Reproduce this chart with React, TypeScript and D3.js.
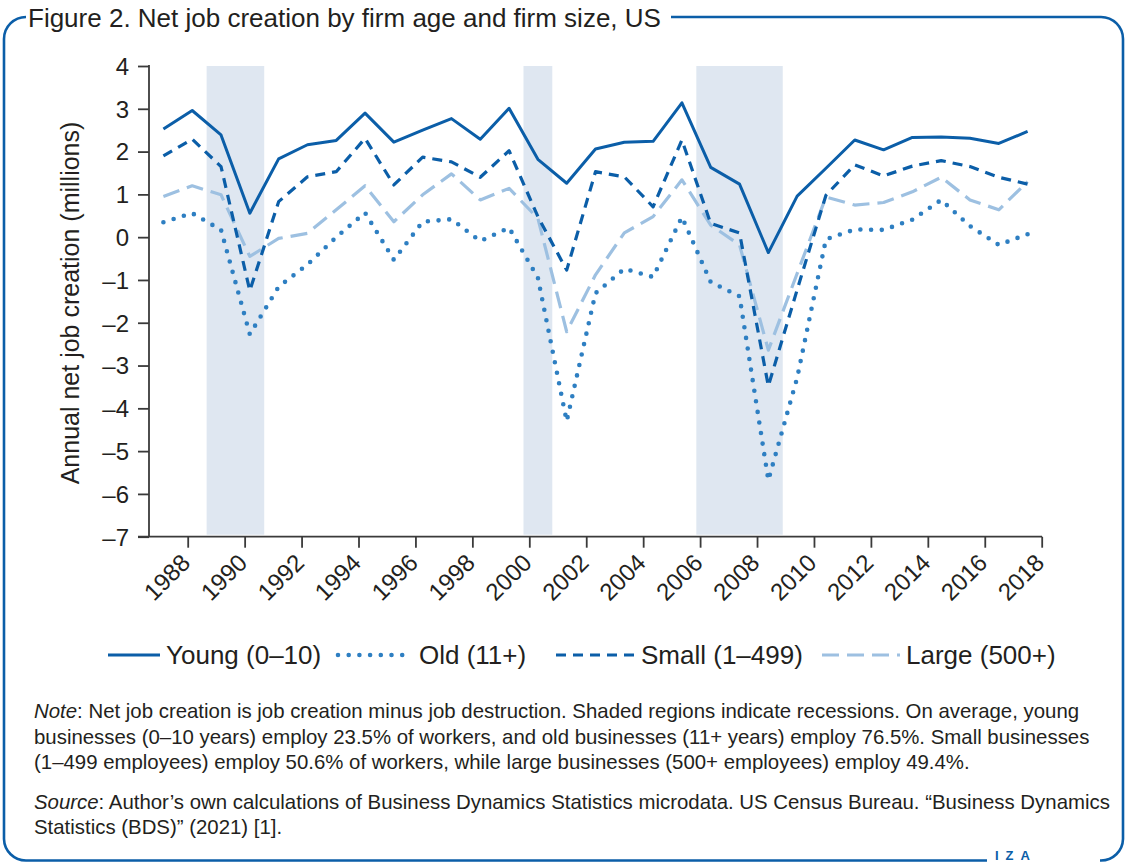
import React, { useRef, useEffect } from 'react';
import * as d3 from 'd3';

// categories (one point per year)
const years = [
	1988, 1989, 1990, 1991, 1992, 1993, 1994, 1995, 1996, 1997, 1998, 1999, 2000, 2001, 2002, 2003,
	2004, 2005, 2006, 2007, 2008, 2009, 2010, 2011, 2012, 2013, 2014, 2015, 2016, 2017, 2018,
];

// annual net job creation, millions
const young = [
	2.53, 2.96, 2.39, 0.56, 1.83, 2.16, 2.26, 2.9, 2.22, 2.5, 2.77, 2.29, 3.01, 1.82, 1.26, 2.06,
	2.22, 2.24, 3.14, 1.63, 1.24, -0.36, 0.96, 1.61, 2.27, 2.04, 2.33, 2.34, 2.31, 2.19, 2.47,
];
const old = [
	0.35, 0.56, 0.17, -2.27, -1.16, -0.64, 0.0, 0.57, -0.53, 0.36, 0.42, -0.09, 0.22, -0.95, -4.3, -1.31,
	-0.74, -0.93, 0.47, -1.05, -1.38, -5.68, -3.29, -0.05, 0.18, 0.17, 0.41, 0.87, 0.26, -0.18, 0.07,
];
const small = [
	1.9, 2.29, 1.65, -1.25, 0.83, 1.41, 1.53, 2.31, 1.22, 1.87, 1.76, 1.4, 2.02, 0.48, -0.77, 1.53,
	1.41, 0.71, 2.27, 0.32, 0.1, -3.48, -1.23, 0.98, 1.69, 1.43, 1.66, 1.79, 1.65, 1.4, 1.24,
];
const large = [
	0.95, 1.2, 0.99, -0.45, -0.03, 0.09, 0.64, 1.2, 0.36, 0.99, 1.48, 0.87, 1.14, 0.44, -2.21, -0.88,
	0.1, 0.48, 1.34, 0.28, -0.18, -2.64, -0.85, 0.94, 0.75, 0.81, 1.06, 1.4, 0.87, 0.64, 1.3,
];

const tickYears = [1988, 1990, 1992, 1994, 1996, 1998, 2000, 2002, 2004, 2006, 2008, 2010, 2012, 2014, 2016, 2018];
const yTicks = [4, 3, 2, 1, 0, -1, -2, -3, -4, -5, -6, -7];

// recession years (first, last)
const recessionStart = [1990, 2001, 2007];
const recessionEnd = [1991, 2001, 2009];

const seriesNames = ['Young (0–10)', 'Old (11+)', 'Small (1–499)', 'Large (500+)'];

const FONT = "'Liberation Sans', Arial, sans-serif";
const BLUE = '#0b5ea8';
const INK = '#231f20';

const styles = [
	{ color: BLUE, width: 3, dash: null, cap: 'butt' },
	{ color: '#2e7fc2', width: 4.6, dash: '0 10.7', cap: 'round' },
	{ color: BLUE, width: 3.2, dash: '10 7', cap: 'butt' },
	{ color: '#9dc0e1', width: 3.2, dash: '17 8', cap: 'butt' },
];

// legend layout: sample start/end, text x
const legendPos = [
	[108, 160, 166],
	[338, 410, 419],
	[556, 636, 641],
	[822, 900, 906],
];

function App() {
	const svgRef = useRef(null);

	useEffect(() => {
		const svg = d3.select(svgRef.current);
		svg.selectAll('*').remove();

		const left = 149;
		const right = 1042;
		const top = 66;
		const bottom = 536.7;

		const x = d3.scaleBand().domain(years.map(String)).range([left, right]);
		const cx = (yr) => x(String(yr)) + x.bandwidth() / 2;
		// the printed tick marks do not sit exactly on the category grid
		const tickScale = d3.scaleLinear().domain([1988, 2018]).range([187.7, 1041.7]);
		const y = d3.scaleLinear().domain([-7, 4]).range([bottom, top]);

		// frame
		const frame = svg.append('g').attr('fill', 'none').attr('stroke', BLUE).attr('stroke-width', 2.6);
		frame.append('path').attr('d', 'M26,17 A22,22 0 0 0 4,39 L4,839 A22,22 0 0 0 26,860.5 L987,860.5');
		frame.append('path').attr('d', 'M671,17 L1101,17 A22,22 0 0 1 1123,39 L1123,839 A22,22 0 0 1 1101,860.5 L1100,860.5');

		svg.append('text')
			.attr('x', 28)
			.attr('y', 27)
			.attr('font-family', FONT)
			.attr('font-size', 26)
			.attr('fill', INK)
			.text('Figure 2. Net job creation by firm age and firm size, US');

		svg.append('text')
			.attr('x', 995)
			.attr('y', 860)
			.attr('font-family', FONT)
			.attr('font-size', 13)
			.attr('font-weight', 'bold')
			.attr('letter-spacing', 7)
			.attr('fill', BLUE)
			.text('IZA');

		// recession shading
		svg.append('g')
			.selectAll('rect')
			.data(recessionStart.map((s, i) => [s, recessionEnd[i]]))
			.join('rect')
			.attr('x', (d) => x(String(d[0])))
			.attr('width', (d) => x(String(d[1])) + x.bandwidth() - x(String(d[0])))
			.attr('y', y(4))
			.attr('height', y(-7) - y(4) - 2)
			.attr('fill', '#dfe7f1');

		// axes
		const yAxis = svg.append('g')
			.attr('transform', `translate(${left},0)`)
			.call(d3.axisLeft(y).tickValues(yTicks).tickSize(11).tickPadding(9).tickFormat((d) => String(d).replace('-', '–')));
		yAxis.select('.domain').attr('d', `M0,${y(4) - 1}V${bottom}`);

		const xAxis = svg.append('g')
			.attr('transform', `translate(0,${bottom})`)
			.call(d3.axisBottom(tickScale).tickValues(tickYears).tickSize(11).tickFormat(d3.format('d')));
		xAxis.select('.domain').attr('d', `M${left - 11},0H${right}`);
		xAxis.selectAll('text')
			.attr('text-anchor', 'end')
			.attr('y', 0)
			.attr('dy', 0)
			.attr('transform', 'translate(3.5,27.5) rotate(-45)');

		svg.selectAll('.domain, .tick line').attr('stroke', '#3a3a3a').attr('stroke-width', 1.8);
		svg.selectAll('.tick text').attr('font-family', FONT).attr('font-size', 24).attr('fill', INK);
		yAxis.selectAll('text').attr('dy', '0.35em');

		svg.append('text')
			.attr('transform', `translate(79,303) rotate(-90)`)
			.attr('text-anchor', 'middle')
			.attr('font-family', FONT)
			.attr('font-size', 25)
			.attr('fill', INK)
			.text('Annual net job creation (millions)');

		// series lines
		const lineGen = d3.line().x((d, i) => cx(years[i])).y((d) => y(d));
		const all = [young, old, small, large];
		const order = [3, 1, 2, 0];
		order.forEach((k) => {
			const s = styles[k];
			svg.append('path')
				.datum(all[k])
				.attr('d', lineGen)
				.attr('fill', 'none')
				.attr('stroke', s.color)
				.attr('stroke-width', s.width)
				.attr('stroke-linejoin', 'round')
				.attr('stroke-linecap', s.cap)
				.attr('stroke-dasharray', s.dash);
		});

		// legend
		const legend = svg.append('g');
		seriesNames.forEach((name, k) => {
			const s = styles[k];
			const [x0, x1, tx] = legendPos[k];
			legend.append('line')
				.attr('x1', x0).attr('x2', x1).attr('y1', 655).attr('y2', 655)
				.attr('stroke', s.color)
				.attr('stroke-width', s.width)
				.attr('stroke-linecap', s.cap)
				.attr('stroke-dasharray', s.dash);
			legend.append('text')
				.attr('x', tx).attr('y', 664)
				.attr('font-family', FONT)
				.attr('font-size', 26)
				.attr('fill', INK)
				.text(name);
		});

		// notes
		const notes = svg.append('g').attr('font-family', FONT).attr('font-size', 20.4).attr('fill', INK);
		const note = notes.append('text').attr('x', 34).attr('y', 718);
		note.append('tspan').attr('font-style', 'italic').text('Note');
		note.append('tspan').text(': Net job creation is job creation minus job destruction. Shaded regions indicate recessions. On average, young');
		notes.append('text').attr('x', 34).attr('y', 744)
			.text('businesses (0–10 years) employ 23.5% of workers, and old businesses (11+ years) employ 76.5%. Small businesses');
		notes.append('text').attr('x', 34).attr('y', 769)
			.text('(1–499 employees) employ 50.6% of workers, while large businesses (500+ employees) employ 49.4%.');
		const src = notes.append('text').attr('x', 34).attr('y', 809);
		src.append('tspan').attr('font-style', 'italic').text('Source');
		src.append('tspan').text(': Author’s own calculations of Business Dynamics Statistics microdata. US Census Bureau. “Business Dynamics');
		notes.append('text').attr('x', 34).attr('y', 834).text('Statistics (BDS)” (2021) [1].');
	}, []);

	return (
		<React.Fragment>
			<style>{'body { margin: 0; }'}</style>
			<svg ref={svgRef} width={1126} height={863} style={{ display: 'block', background: '#fff' }} />
		</React.Fragment>
	);
}

export default App;
